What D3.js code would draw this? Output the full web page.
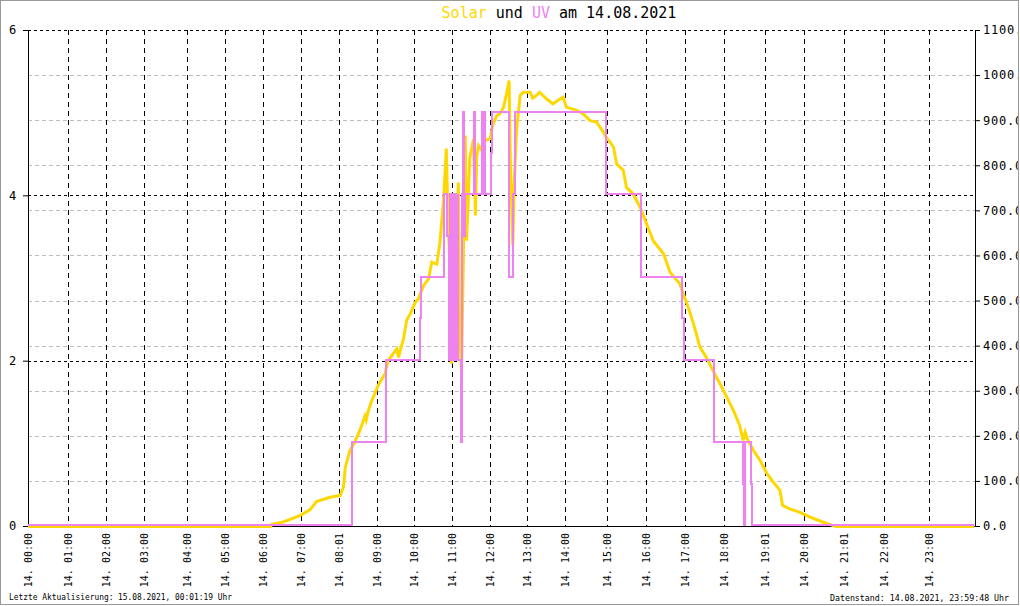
<!DOCTYPE html>
<html><head><meta charset="utf-8">
<script src="https://cdn.jsdelivr.net/npm/d3@7"></script>
<style>body{margin:0;background:#fff}svg{display:block}</style>
</head><body><svg id="c" width="1020" height="606"></svg>
<script>
// ---------------- data ----------------
const hourTickLabels = ["14. 00:00","14. 01:00","14. 02:00","14. 03:00","14. 04:00","14. 05:00",
  "14. 06:00","14. 07:00","14. 08:01","14. 09:00","14. 10:00","14. 11:00","14. 12:00",
  "14. 13:00","14. 14:00","14. 15:00","14. 16:00","14. 17:00","14. 18:00","14. 19:01",
  "14. 20:00","14. 21:01","14. 22:00","14. 23:00"];
// number of logged samples in each hour (x axis is sample based)
const samplesPerHour = [40,38,38,43,38,38,38,38,38,37,38,38,37,38,42,39,39,39,41,39,40,40,45,46];
const uvTicks = [0,2,4,6];
const solarTicks = [0,100,200,300,400,500,600,700,800,900,1000,1100];

const solarTimes = ["00:00","06:12","06:14","06:32","06:58","07:14","07:25","07:35","07:46","08:02","08:07","08:10",
 "08:17","08:25","08:33","08:41","08:43","08:46","08:51","09:02","09:13","09:18","09:26","09:32","09:35","09:38",
 "09:43","09:48","09:54","10:02","10:07","10:15","10:23","10:28","10:36","10:41","10:47","10:51","10:53","10:56",
 "10:59","11:01","11:04","11:07","11:10","11:12","11:15","11:21","11:23","11:25","11:28","11:34","11:37","11:39",
 "11:42","11:47","11:52","12:00","12:05","12:11","12:16","12:22","12:27","12:31","12:33","12:37","12:39","12:43",
 "12:49","12:54","13:05","13:09","13:15","13:20","13:31","13:41","13:52","13:57","14:02","14:17","14:26","14:36",
 "14:45","14:55","14:59","15:05","15:10","15:15","15:20","15:25","15:30","15:35","15:40","15:51","16:01","16:11",
 "16:27","16:37","16:52","17:03","17:13","17:23","17:33","17:43","17:54","18:04","18:14","18:23","18:28","18:31",
 "18:34","18:43","18:53","19:03","19:13","19:23","19:27","19:38","19:53","20:04","20:19","20:34","20:44","20:48","23:59"];
const solarValues = [0,0,5,10,24,37,56,60,65,69,87,131,
 168,187,213,245,236,255,276,313,339,368,383,394,375,392,
 416,457,472,497,505,534,549,586,582,630,730,838,720,600,
 361,450,531,650,763,442,339,867,634,700,816,860,690,820,
 845,834,856,860,893,911,915,930,960,989,812,623,752,878,
 956,963,963,950,956,963,948,937,948,952,930,923,915,900,
 897,874,863,852,841,804,797,790,752,745,738,708,671,634,
 605,564,538,494,450,398,375,346,316,287,257,224,191,209,
 195,169,146,117,98,80,47,39,32,24,15,7,2,0,0];

const uvTimes = ["00:00","08:20","08:21","09:15","10:10","10:11","10:47","10:52","10:55","10:57","10:58","10:59",
 "11:00","11:02","11:03","11:05","11:07","11:09","11:10","11:14","11:16","11:18","11:19","11:21","11:34","11:36",
 "11:48","11:49","11:50","11:52","12:01","12:03","12:31","12:37","12:41","14:59","15:53","16:56","16:58","17:44",
 "17:45","18:28","18:29","18:31","18:40","18:41","23:59"];
const uvValues = [0,0.5,1,2,2.5,3,4,3.5,2,4,2,4,
 2,4,2,4,2,4,2,1,4,5,3.5,4,5,4,
 5,4,5,4,4.5,5,3,4,5,4,3,2.5,2,1.5,
 1,0.5,0,1,0.5,0,0];

const titleParts = [["Solar","#FFD700"],[" und ","#000"],["UV","#EE82EE"],[" am 14.08.2021","#000"]];
const footerLeft = "Letzte Aktualisierung: 15.08.2021, 00:01:19 Uhr";
const footerRight = "Datenstand: 14.08.2021, 23:59:48 Uhr";

// ---------------- drawing ----------------
const W = 1020, H = 606;
const m = {left: 28, right: 975, top: 30, bottom: 526};
const MONO = "'DejaVu Sans Mono', monospace";
const svg = d3.select("#c");
svg.append("rect").attr("width", W).attr("height", H).attr("fill", "#fff");

const cum = [0];
samplesPerHour.forEach(n => cum.push(cum[cum.length - 1] + n));
const hourToSample = d3.scaleLinear().domain(d3.range(25)).range(cum);
const x = d3.scaleLinear().domain([0, cum[24]]).range([m.left, m.right]);
const yUV = d3.scaleLinear().domain([0, 6]).range([m.bottom, m.top]);
const ySol = d3.scaleLinear().domain([0, 1100]).range([m.bottom, m.top]);
const parseT = s => { const [h, mm] = s.split(":").map(Number); return h + mm / 60; };
const xt = s => x(hourToSample(parseT(s)));
const crisp = v => Math.round(v) + 0.5;

const grid = svg.append("g");
// grey dashed (solar scale)
solarTicks.filter(v => v > 0 && v < 1100).forEach(v => {
  grid.append("line").attr("x1", m.left).attr("x2", m.right)
    .attr("y1", crisp(ySol(v))).attr("y2", crisp(ySol(v)))
    .attr("stroke", "#bdbdbd").attr("stroke-dasharray", "4,3");
});
// black dotted (UV scale)
uvTicks.filter(v => v > 0).forEach(v => {
  grid.append("line").attr("x1", m.left).attr("x2", m.right)
    .attr("y1", crisp(yUV(v))).attr("y2", crisp(yUV(v)))
    .attr("stroke", "#000").attr("stroke-dasharray", "3,3");
});
// vertical dashed hour lines
cum.slice(1, 24).forEach(c => {
  grid.append("line").attr("x1", crisp(x(c))).attr("x2", crisp(x(c)))
    .attr("y1", m.top).attr("y2", m.bottom)
    .attr("stroke", "#000").attr("stroke-dasharray", "5,4");
});

// axes (drawn below the data lines)
const gL = svg.append("g").attr("transform", `translate(${m.left},0)`)
  .call(d3.axisLeft(yUV).tickValues(uvTicks).tickSize(5).tickSizeOuter(0).tickPadding(6).tickFormat(d3.format("d")));
const gR = svg.append("g").attr("transform", `translate(${m.right},0)`)
  .call(d3.axisRight(ySol).tickValues(solarTicks).tickSize(5).tickSizeOuter(0).tickPadding(3).tickFormat(d => d.toFixed(1)));
const gB = svg.append("g").attr("transform", `translate(0,${m.bottom})`)
  .call(d3.axisBottom(x).tickValues(cum.slice(0, 24)).tickSize(0).tickSizeOuter(0).tickFormat((d, i) => hourTickLabels[i]));
[gL, gR].forEach(g => g.selectAll("text").attr("font-family", MONO).attr("font-size", 12)
  .attr("letter-spacing", "0.8px").attr("fill", "#000"));
[gL, gR, gB].forEach(g => { g.selectAll("path,line").attr("stroke", "#000"); });
gB.selectAll("text").attr("font-family", MONO).attr("font-size", 10).attr("fill", "#000")
  .attr("transform", "rotate(-90)").attr("text-anchor", "end")
  .attr("x", -7).attr("y", 0).attr("dy", "0.35em");

// solar line
const solarData = solarTimes.map((t, i) => [t, solarValues[i]]);
svg.append("path").datum(solarData)
  .attr("fill", "none").attr("stroke", "#FFD700").attr("stroke-width", 3)
  .attr("d", d3.line().x(d => xt(d[0])).y(d => ySol(d[1]) + 0.5));

// UV step line
const uvData = uvTimes.map((t, i) => [t, uvValues[i]]);
svg.append("path").datum(uvData)
  .attr("fill", "none").attr("stroke", "#EE82EE").attr("stroke-width", 2)
  .attr("shape-rendering", "crispEdges")
  .attr("d", d3.line().curve(d3.curveStepAfter).x(d => Math.round(xt(d[0]))).y(d => Math.round(yUV(d[1])) - 1));

// title
const title = svg.append("text").attr("x", 559).attr("y", 18).attr("text-anchor", "middle")
  .attr("font-family", MONO).attr("font-size", 15).style("white-space", "pre");
titleParts.forEach(p => title.append("tspan").attr("fill", p[1]).text(p[0]));

// footers
svg.append("text").attr("x", 9).attr("y", 600).attr("font-family", MONO).attr("font-size", 8.5)
  .attr("textLength", 223).attr("lengthAdjust", "spacingAndGlyphs").text(footerLeft);
svg.append("text").attr("x", 830).attr("y", 601).attr("font-family", MONO).attr("font-size", 8.5)
  .attr("textLength", 179).attr("lengthAdjust", "spacingAndGlyphs").text(footerRight);

// outer frame
svg.append("rect").attr("x", 1019).attr("y", 0).attr("width", 1).attr("height", H).attr("fill", "#fff");
svg.append("rect").attr("x", 0.5).attr("y", 0.5).attr("width", 1018).attr("height", 604)
  .attr("fill", "none").attr("stroke", "#999");
</script></body></html>
